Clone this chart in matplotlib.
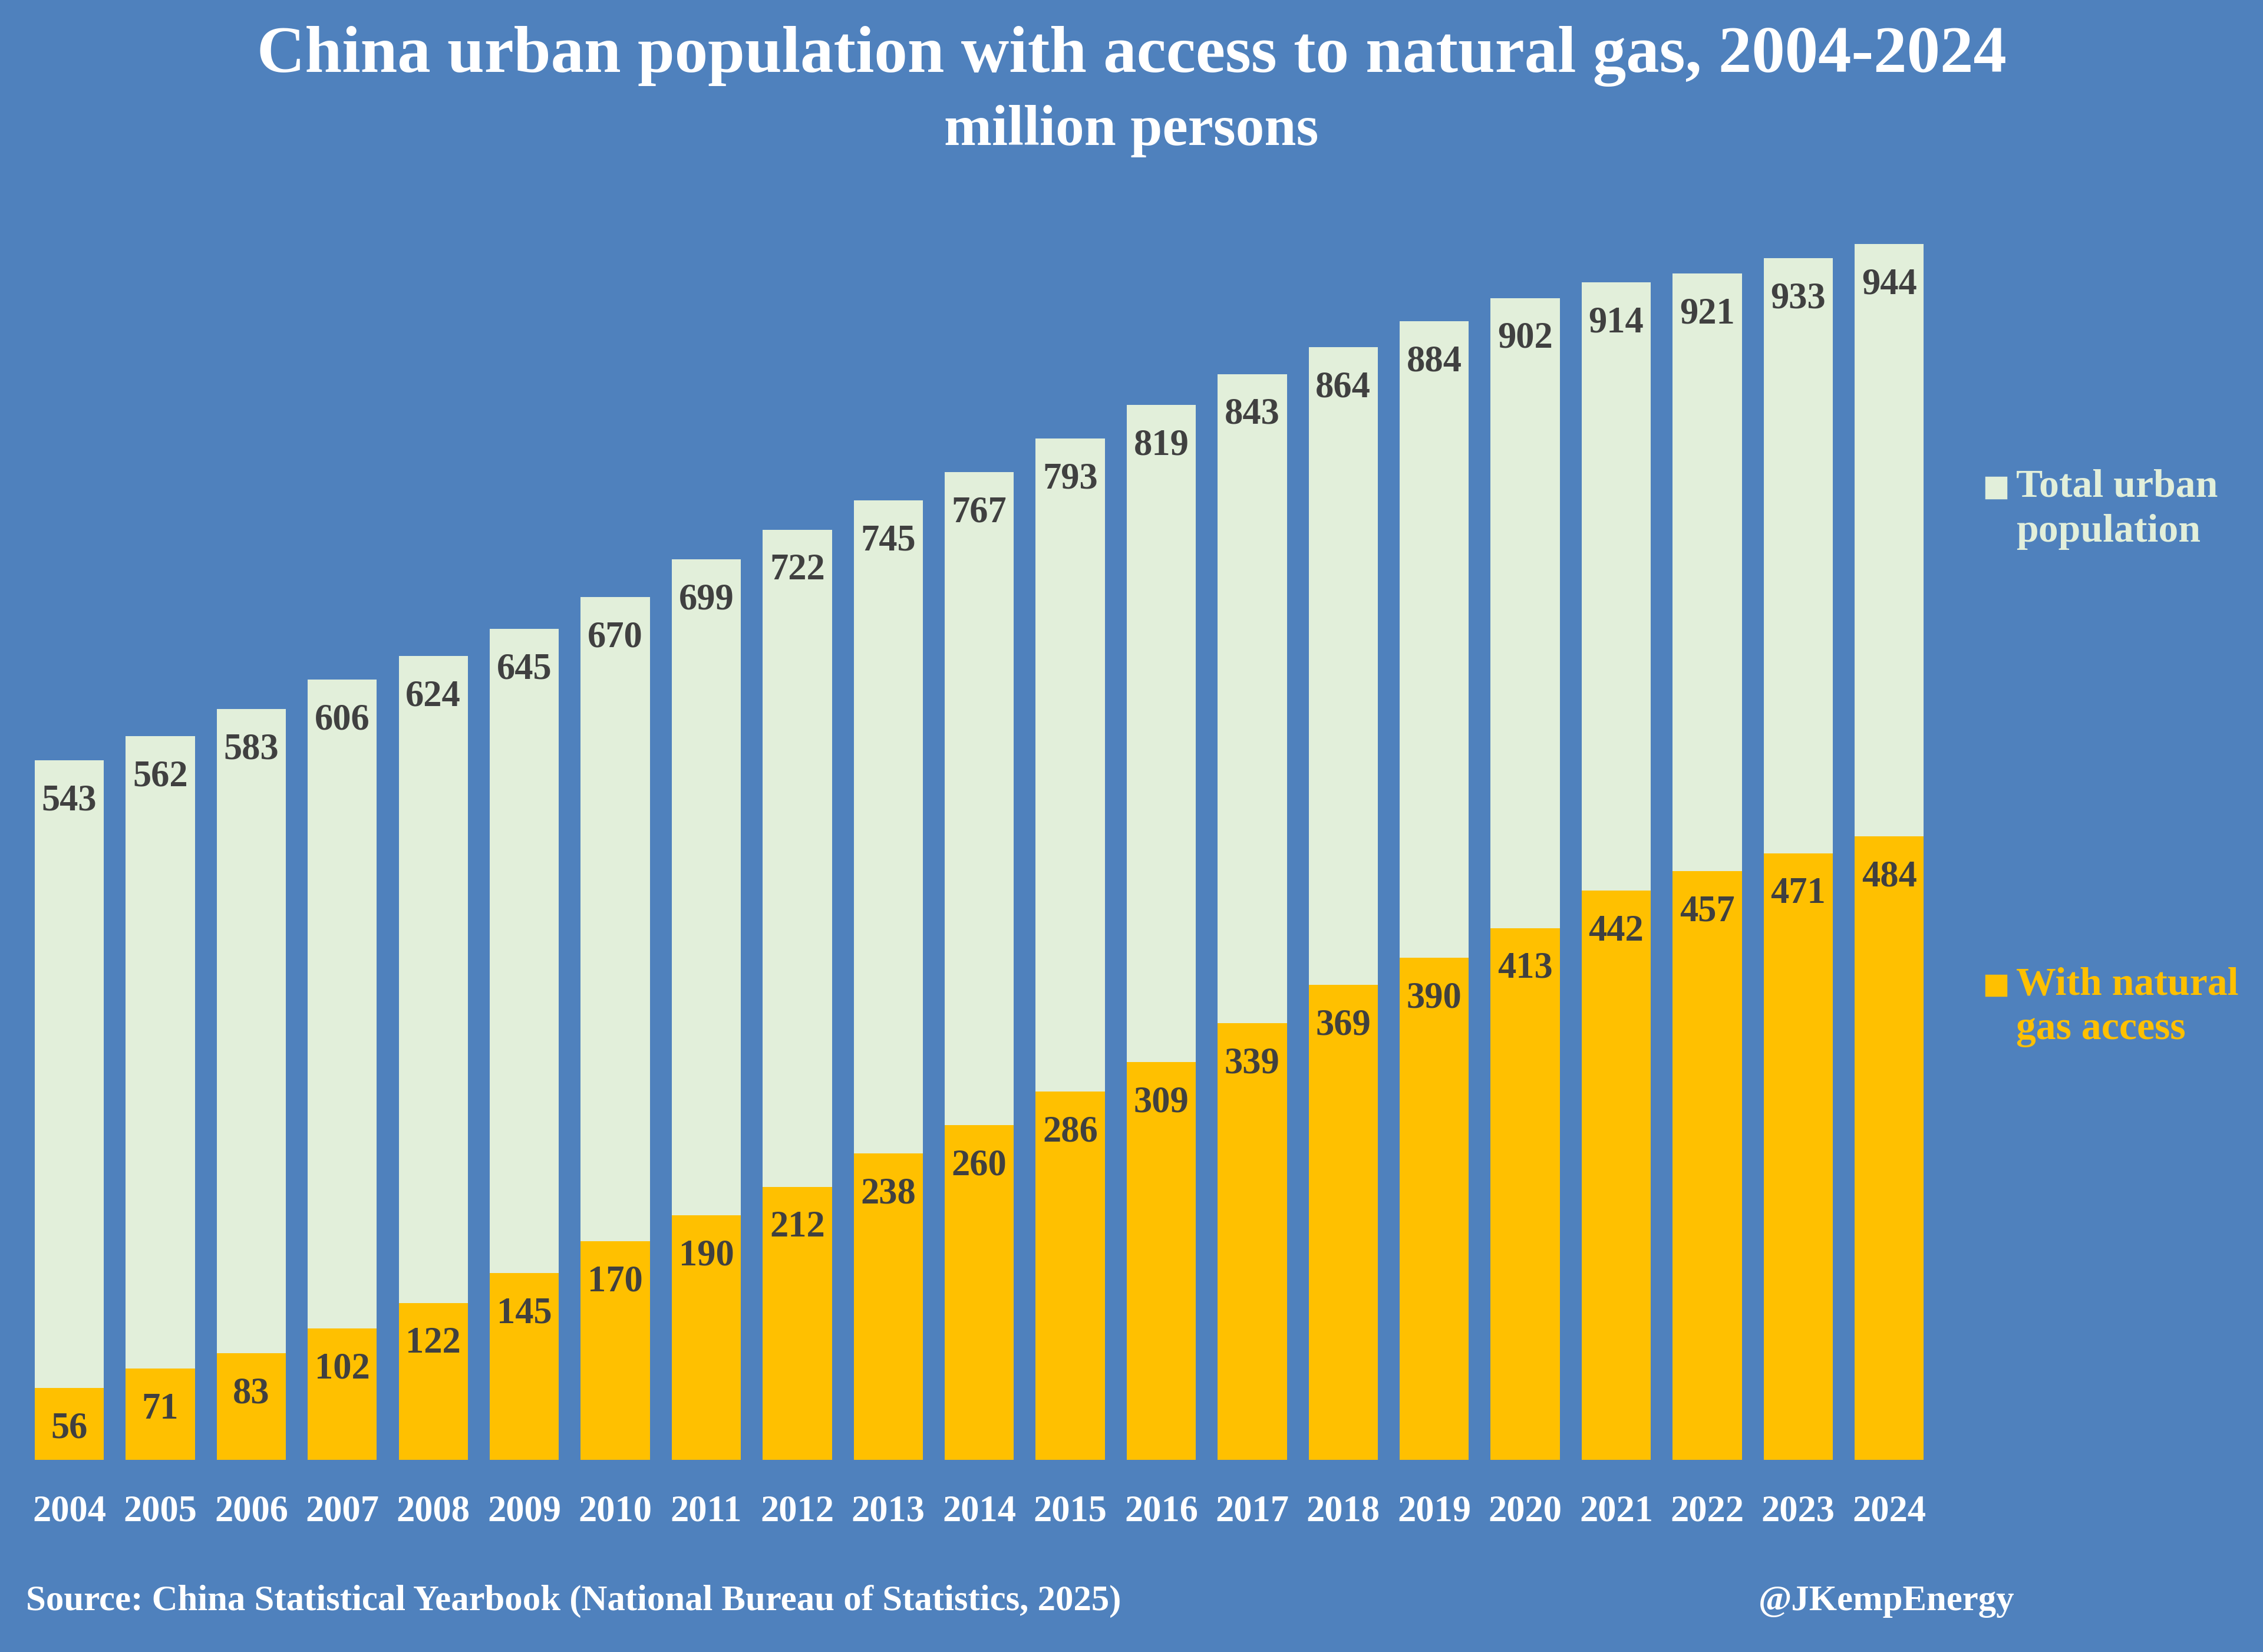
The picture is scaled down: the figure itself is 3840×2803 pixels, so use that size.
import matplotlib

matplotlib.use("Agg")
import matplotlib.pyplot as plt
from matplotlib.patches import Rectangle

# ── Data ─────────────────────────────────────────────────────────────────────
years = [str(y) for y in range(2004, 2025)]
total_urban = [543, 562, 583, 606, 624, 645, 670, 699, 722, 745, 767,
               793, 819, 843, 864, 884, 902, 914, 921, 933, 944]
with_gas = [56, 71, 83, 102, 122, 145, 170, 190, 212, 238, 260,
            286, 309, 339, 369, 390, 413, 442, 457, 471, 484]

BG = "#4F81BD"
LIGHT = "#E2EFDA"
GOLD = "#FFC000"
LABEL = "#404040"
FONT = ["Liberation Serif", "DejaVu Serif"]

# reference layout is described in a 1568 x 1145 grid
W, H = 1568, 1145


def fx(x):
    return x / W


def fy(y):
    return 1 - y / H


fig = plt.figure(figsize=(15.36, 11.212), dpi=250)
fig.patch.set_facecolor(BG)

ax = fig.add_axes([fx(16.5), fy(1012), fx(1340.5) - fx(16.5), fy(119) - fy(1012)])
ax.set_facecolor(BG)

x = range(len(years))
ax.bar(x, total_urban, width=0.76, color=LIGHT, zorder=1)
ax.bar(x, with_gas, width=0.76, color=GOLD, zorder=2)

for i, (t, g) in enumerate(zip(total_urban, with_gas)):
    ax.annotate(str(t), xy=(i, t), xytext=(0, -20), textcoords="offset points",
                ha="center", va="center", fontsize=18, fontweight="bold",
                color=LABEL, family=FONT, zorder=3)
    ax.annotate(str(g), xy=(i, g), xytext=(0, -20), textcoords="offset points",
                ha="center", va="center", fontsize=18, fontweight="bold",
                color=LABEL, family=FONT, zorder=3)

ax.set_xlim(-0.5, len(years) - 0.5)
ax.set_ylim(0, 1000)
ax.set_xticks(list(x))
ax.set_xticklabels(years, fontsize=18, fontweight="bold", color="white", family=FONT)
ax.tick_params(axis="x", length=0, pad=17)
ax.set_yticks([])
for spine in ax.spines.values():
    spine.set_visible(False)

# ── Titles ───────────────────────────────────────────────────────────────────
fig.text(fx(784), fy(39), "China urban population with access to natural gas, 2004-2024",
         ha="center", va="center", fontsize=32.5, fontweight="bold", color="white", family=FONT)
fig.text(fx(784), fy(91), "million persons",
         ha="center", va="center", fontsize=28, fontweight="bold", color="white", family=FONT)

# ── Legend (drawn by hand, to the right of the bars) ─────────────────────────
legend_items = [("Total urban\npopulation", LIGHT, 338), ("With natural\ngas access", GOLD, 683)]
for text, col, y in legend_items:
    fig.patches.append(Rectangle((fx(1376), fy(y + 7)), fx(14), fy(0) - fy(14),
                                 transform=fig.transFigure, color=col, figure=fig))
    fig.text(fx(1397), fy(y - 13), text, ha="left", va="top", fontsize=19.5,
             fontweight="bold", color=col, family=FONT, linespacing=1.32)

# ── Footer ───────────────────────────────────────────────────────────────────
fig.text(fx(18), fy(1110), "Source: China Statistical Yearbook (National Bureau of Statistics, 2025)",
         ha="left", va="center", fontsize=17.5, fontweight="bold", color="white", family=FONT)
fig.text(fx(1396), fy(1110), "@JKempEnergy",
         ha="right", va="center", fontsize=17.5, fontweight="bold", color="white", family=FONT)

fig.savefig("out.png", dpi=250, facecolor=fig.get_facecolor())
